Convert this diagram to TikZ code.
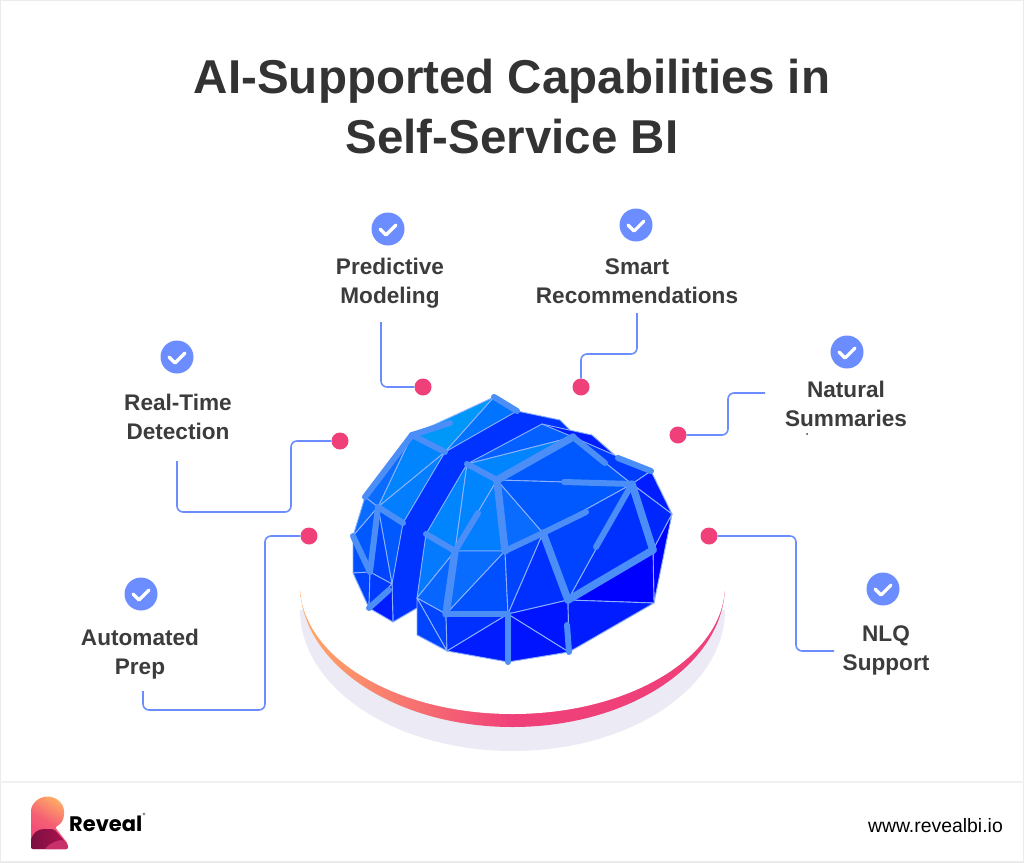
\documentclass[tikz,border=0pt]{standalone}
\usepackage{fontspec}
\setmainfont{Liberation Sans}
\newfontfamily\logofont{Poppins}
\definecolor{inktext}{HTML}{3C3C3C}
\definecolor{titletext}{HTML}{333333}
\definecolor{linkblue}{HTML}{6B8DFF}
\definecolor{dotpink}{HTML}{F0407A}
\definecolor{ringorange}{HTML}{FFA966}
\definecolor{shadowgrey}{HTML}{ECEAF5}
\definecolor{framegrey}{HTML}{EBEBEB}
\definecolor{meshline}{HTML}{8DB2FF}
\definecolor{barblue}{HTML}{4B8EF8}
\definecolor{logodark}{HTML}{7A1040}
\definecolor{logomid}{HTML}{B01050}
\definecolor{logolight}{HTML}{C8306A}
\definecolor{tinta}{HTML}{0098F8}
\definecolor{tintb}{HTML}{0085FF}
\definecolor{tintc}{HTML}{0A6CFF}
\definecolor{tintd}{HTML}{0058FF}
\definecolor{tinte}{HTML}{0044FF}
\definecolor{tintf}{HTML}{0030FF}
\definecolor{tintg}{HTML}{001CFF}
\definecolor{tinth}{HTML}{0000FF}
\tikzset{
  dotmark/.style={circle,fill=dotpink,inner sep=0pt,minimum size=17pt},
  checkmark/.style={circle,fill=linkblue,inner sep=0pt,minimum size=33pt},
  link/.style={draw=linkblue,line width=1.6pt,rounded corners=6pt},
  caption/.style={align=center,font=\fontsize{22.6}{29}\selectfont\bfseries,text=inktext},
  facet/.style={draw=meshline,line width=0.9pt,line join=round},
  bar/.style={draw=barblue,line width=6pt,line cap=round},
  heavybar/.style={draw=barblue,line width=7.5pt,line cap=round}
}
\begin{document}
\begin{tikzpicture}[x=1pt,y=1pt,yscale=-1]
    \useasboundingbox (0,0) rectangle (1024,862);
    % frame and footer rule
    \draw [framegrey,line width=2pt] (0,0) rectangle (1024,862);
    \draw [framegrey!70,line width=2pt] (0,782) -- (1024,782);
    % title
    \node (title) [align=center,font=\fontsize{47.5}{60}\selectfont\bfseries,text=titletext] at (512,107) {AI-Supported Capabilities in\\Self-Service BI};

    % platform
    \fill [shadowgrey] (300,610) arc [start angle=180,end angle=0,x radius=212.5,y radius=141] -- cycle;
    \shade [left color=ringorange,right color=dotpink,middle color=dotpink] (300,585) arc [start angle=180,end angle=0,x radius=212.5,y radius=142] -- cycle;
    \fill [white] (300,585) arc [start angle=180,end angle=0,x radius=212.5,y radius=129] -- cycle;

    % back lobe points
    \coordinate (la) at (494,397);
    \coordinate (lb) at (517,411);
    \coordinate (lc) at (560,420);
    \coordinate (ld) at (412,435);
    \coordinate (le) at (445,452);
    \coordinate (lf) at (365,497);
    \coordinate (lg) at (378,507);
    \coordinate (lh) at (403,523);
    \coordinate (li) at (353,536);
    \coordinate (lj) at (370,572);
    \coordinate (lk) at (392,584);
    \coordinate (ll) at (353,573);
    \coordinate (lm) at (369,608);
    \coordinate (ln) at (393,622);
    \coordinate (lo) at (417,608);
    \coordinate (lp) at (450,423);
    \coordinate (lq) at (389,590);
    % front lobe points
    \coordinate (fa) at (467,464);
    \coordinate (fb) at (497,480);
    \coordinate (fc) at (573,437);
    \coordinate (fd) at (542,424);
    \coordinate (fe) at (605,463);
    \coordinate (ff) at (618,458);
    \coordinate (fg) at (651,471);
    \coordinate (fh) at (632,484);
    \coordinate (fi) at (564,482);
    \coordinate (fj) at (672,514);
    \coordinate (fk) at (653,550);
    \coordinate (fl) at (654,603);
    \coordinate (fm) at (568,600);
    \coordinate (fn) at (508,614);
    \coordinate (fo) at (446,614);
    \coordinate (fp) at (417,598);
    \coordinate (fq) at (426,534);
    \coordinate (fr) at (455,551);
    \coordinate (fs) at (505,551);
    \coordinate (ft) at (543,533);
    \coordinate (fu) at (586,512);
    \coordinate (fv) at (478,513);
    \coordinate (fw) at (596,547);
    \coordinate (fx) at (417,635);
    \coordinate (fy) at (447,651);
    \coordinate (fz) at (508,662);
    \coordinate (gb) at (569,652);
    \coordinate (gc) at (567,625);
    \coordinate (gd) at (592,435);

    % dark band between the lobes
    \fill [tintf!85!tinte] (la) -- (lb) -- (lc) -- (572,432) -- (fa) -- (fp) -- (lo) -- (ln) -- (lk) -- (lh) -- (le) -- cycle;
    \draw [meshline,line width=0.9pt] (la) -- (lb) -- (lc) -- (572,432);
    \draw [meshline,line width=0.9pt] (lk) -- (ln) -- (lo);
    % back lobe facets
    \foreach \pa/\pb/\pc/\tint in {
        ld/la/le/tinta, le/la/lb/tintb!60!tintd, ld/le/lg/tintb, ld/lg/lf/tintc,
        le/lh/lg/tintb!70!tintc, lf/lg/li/tintc, lg/lh/lk/tintd, lg/lk/lj/tinte,
        lg/lj/li/tintd, li/lj/ll/tintd!60!tinte, ll/lj/lm/tinte, lj/lk/lm/tinte!50!tintf, lk/ln/lm/tintg}
      \draw [facet,fill=\tint] (\pa) -- (\pb) -- (\pc) -- cycle;
    % front lobe facets
    \fill [tintg] (fd) -- (gd) -- (ff) -- (fg) -- (fh) -- (fc) -- cycle;
    \draw [meshline,line width=0.9pt] (fd) -- (gd) -- (ff) -- (fg);
    \draw [meshline,line width=0.9pt] (fd) -- (fh);
    \foreach \pa/\pb/\pc/\tint in {
        fa/fd/fc/tintc!40!tintd, fa/fc/fb/tintb, fa/fr/fq/tintb, fa/fb/fr/tintb,
        fb/fs/fr/tintb!70!tintc, fb/ft/fs/tintc, fb/fc/fh/tintd, fb/fh/ft/tintd,
        ft/fh/fm/tinte, fh/fk/fm/tintf, fc/fg/fh/tinte!60!tintf, fh/fg/fj/tintg,
        fh/fj/fk/tintf!50!tintg, fj/fk/fl/tinth, fk/fl/fm/tinth, fr/fs/fo/tintc,
        fs/fn/fo/tintd!60!tinte, fs/ft/fn/tinte, ft/fm/fn/tintf, fq/fr/fp/tintb!60!tintc,
        fr/fo/fp/tintc!70!tintd, fp/fo/fy/tinte, fp/fy/fx/tinte, fo/fn/fy/tintf,
        fy/fn/fz/tintg, fn/gb/fz/tintg!70!tinth, fn/fm/gb/tintg!70!tinth, fm/fl/gb/tintg}
      \draw [facet,fill=\tint] (\pa) -- (\pb) -- (\pc) -- cycle;

    % thick struts
    \foreach \pa/\pb in {la/lb,ld/lp,ld/le,ld/lf,lg/lh,lg/lj,li/lj,lm/lq,
        fa/fb,fc/fe,ff/fg,fi/fh,fs/ft,ft/fu,fh/fw,
        fq/fr,fr/fv,fo/fn,fn/fz,gc/gb}
      \draw [bar] (\pa) -- (\pb);
    \foreach \pa/\pb in {fb/fc,fb/fs,fh/fk,fk/fm,ft/fm,fr/fo}
      \draw [heavybar] (\pa) -- (\pb);

    % capability marks
    \foreach \name/\x/\y in {pred/388/229,smart/636/225,natural/847/352,real/177/357,auto/141/594,nlq/883/589} {
      \node (check\name) [checkmark] at (\x,\y) {};
      \draw [white,line width=3.2pt,line cap=round,line join=round] (\x-8,\y) -- (\x-2,\y+6) -- (\x+8,\y-4);
    }
    % capability labels
    \node (labelpred) [caption] at (390,283) {Predictive\\Modeling};
    \node (labelsmart) [caption] at (637,281) {Smart\\Recommendations};
    \node (labelnatural) [caption] at (846,404) {Natural\\Summaries};
    \node (labelreal) [caption] at (178,417) {Real-Time\\Detection};
    \node (labelauto) [caption] at (140,654) {Automated\\Prep};
    \node (labelnlq) [caption] at (886,650) {NLQ\\Support};
    \fill [inktext] (807,434) circle (1);

    % pink dots
    \node (dotpred) [dotmark] at (423,387) {};
    \node (dotsmart) [dotmark] at (581,387) {};
    \node (dotnatural) [dotmark] at (678,435) {};
    \node (dotreal) [dotmark] at (340,441) {};
    \node (dotauto) [dotmark] at (309,536) {};
    \node (dotnlq) [dotmark] at (709,536) {};
    % free ends of the links
    \coordinate (endpred) at (381,322);
    \coordinate (endsmart) at (637,313);
    \coordinate (endnatural) at (765,393);
    \coordinate (endreal) at (177,461);
    \coordinate (endauto) at (143,691);
    \coordinate (endnlq) at (834,651);
    % links
    \draw [link] (dotpred) -| (endpred);
    \draw [link] (dotsmart) |- (637,354) -- (endsmart);
    \draw [link] (dotnatural) -| (728,393) -- (endnatural);
    \draw [link] (dotreal) -| (291,512) -| (endreal);
    \draw [link] (dotauto) -| (265,710) -| (endauto);
    \draw [link] (dotnlq) -| (796,651) -- (endnlq);

    % logo
    \shade [left color=ringorange,right color=dotpink,middle color=dotpink!70!ringorange,shading angle=-30,rounded corners=2pt]
      (31,849) -- (31,813) arc [start angle=180,end angle=360,radius=16.5] .. controls (64,820) and (60,825) .. (55,827) -- (68,844) -- (68,849) -- cycle;
    \shade [left color=logodark,right color=logomid,rounded corners=2pt]
      (31,849) -- (31,840) .. controls (33,833) and (38,829) .. (46,829) -- (54,829) -- (68,845) -- (68,849) -- cycle;
    \fill [logolight,rounded corners=2pt] (45,849) .. controls (50,843) and (58,840) .. (64,840) -- (68,845) -- (68,849) -- cycle;
    \node (logoname) [anchor=west,inner sep=0pt,font=\logofont\fontsize{21}{23}\selectfont\bfseries,text=black] at (69,824) {Reveal};
    \node (logomark) [anchor=west,inner sep=0pt,font=\logofont\fontsize{6}{6}\selectfont,text=black] at (142.5,815) {®};
    \node (website) [anchor=east,inner sep=0pt,font=\fontsize{19.4}{20}\selectfont,text=black] at (1003,826) {www.revealbi.io};
\end{tikzpicture}
\end{document}
